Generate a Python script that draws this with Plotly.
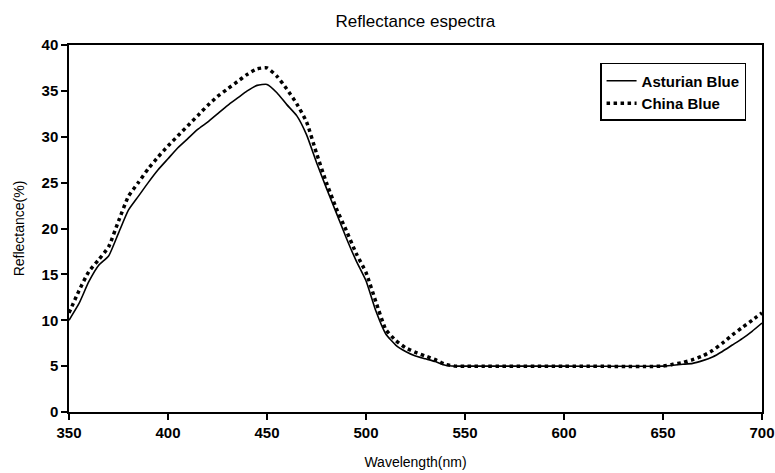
import plotly.graph_objects as go

wavelength = [350, 355, 360, 365, 370, 375, 380, 385, 390, 395, 400, 405, 410, 415, 420,
              425, 430, 435, 440, 445, 450, 455, 460, 465, 470, 475, 480, 485, 490, 495,
              500, 505, 510, 515, 520, 525, 530, 535, 540, 545, 550, 600, 650, 655, 660,
              665, 670, 675, 680, 685, 690, 695, 700]

asturian_blue = [10.0, 11.8, 14.2, 16.0, 17.0, 19.5, 22.0, 23.5, 25.0, 26.4, 27.6, 28.8, 29.8, 30.8, 31.6,
                 32.5, 33.4, 34.2, 35.0, 35.6, 35.7, 34.8, 33.5, 32.3, 30.2, 27.2, 24.4, 21.7, 19.0, 16.5,
                 14.3, 11.0, 8.5, 7.3, 6.6, 6.1, 5.8, 5.5, 5.1, 5.0, 5.0, 5.0, 5.0, 5.1, 5.2,
                 5.3, 5.6, 6.0, 6.6, 7.3, 8.0, 8.8, 9.7]

china_blue = [10.8, 13.2, 15.3, 16.6, 18.0, 20.8, 23.5, 25.0, 26.5, 27.8, 29.0, 30.1, 31.2, 32.3, 33.4,
              34.4, 35.2, 36.0, 36.8, 37.4, 37.5, 36.6, 35.2, 33.6, 31.6, 28.2, 25.0, 22.2, 19.8, 17.3,
              15.2, 12.0, 9.0, 7.8, 7.0, 6.5, 6.1, 5.7, 5.2, 5.0, 5.0, 5.0, 5.0, 5.2, 5.4,
              5.7, 6.1, 6.7, 7.5, 8.4, 9.2, 10.0, 10.8]

x_ticks = [350, 400, 450, 500, 550, 600, 650, 700]
y_ticks = [0, 5, 10, 15, 20, 25, 30, 35, 40]

fig = go.Figure()
fig.add_trace(go.Scatter(x=wavelength, y=asturian_blue, mode="lines", name="Asturian Blue",
                         line=dict(color="black", width=1.6, shape="spline", smoothing=0.5)))
fig.add_trace(go.Scatter(x=wavelength, y=china_blue, mode="lines", name="China Blue",
                         line=dict(color="black", width=3.5, dash="dot", shape="spline", smoothing=0.5)))

font = "Liberation Sans, Arial, sans-serif"
fig.update_layout(
    width=775, height=473,
    margin=dict(l=69, r=13, t=45, b=61),
    paper_bgcolor="white", plot_bgcolor="white",
    font=dict(family=font, color="black"),
    title=dict(text="Reflectance espectra", x=0.536, xanchor="center", y=0.956, yanchor="middle",
               font=dict(size=17, family=font, color="black")),
    showlegend=True,
    legend=dict(x=0.977, xanchor="right", y=0.951, yanchor="top",
                bordercolor="black", borderwidth=1.5, bgcolor="white",
                font=dict(size=15, family=font, color="black", weight="bold"),
                itemwidth=30, tracegroupgap=0),
    xaxis=dict(range=[350, 700], tickvals=x_ticks, ticks="outside", ticklen=6, tickwidth=1.5,
               tickcolor="black", showline=True, linecolor="black", linewidth=1.5, mirror=True,
               showgrid=False, zeroline=False, automargin=False,
               tickfont=dict(size=15, family=font, color="black", weight="bold"),
               title=dict(text="Wavelength(nm)", font=dict(size=14, family=font, color="black"), standoff=17)),
    yaxis=dict(range=[0, 40], tickvals=y_ticks, ticks="outside", ticklen=6, tickwidth=1.5,
               tickcolor="black", showline=True, linecolor="black", linewidth=1.5, mirror=True,
               showgrid=False, zeroline=False, automargin=False,
               tickfont=dict(size=15, family=font, color="black", weight="bold"),
               title=dict(text="Reflectance(%)", font=dict(size=14, family=font, color="black"), standoff=14)),
)

fig.write_html("out.html")
